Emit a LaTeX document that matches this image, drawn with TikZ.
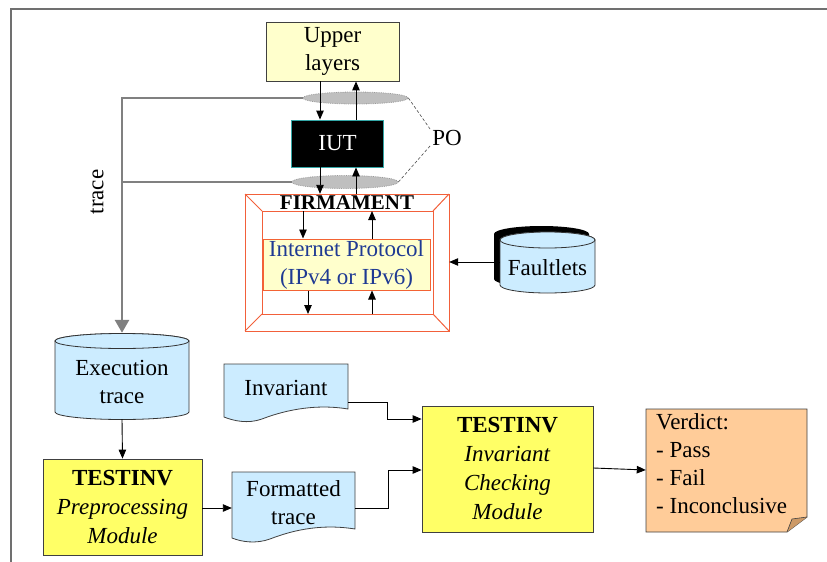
\documentclass[tikz,border=0pt]{standalone}
\usepackage{fontspec}
\setmainfont{Liberation Serif}
\usetikzlibrary{arrows.meta,shapes.geometric}
\definecolor{ylight}{HTML}{FFFFCC}
\definecolor{yboxfill}{HTML}{FFFF66}
\definecolor{cylfill}{HTML}{CCECFF}
\definecolor{peach}{HTML}{FFCC99}
\definecolor{foldcol}{HTML}{CC9966}
\definecolor{firmcol}{HTML}{F2603A}
\definecolor{ipblue}{HTML}{1F3A93}
\definecolor{iutborder}{HTML}{33A6A6}
\definecolor{linegray}{HTML}{808080}
\definecolor{ellfill}{HTML}{BFBFBF}
\definecolor{ellline}{HTML}{9A9A9A}
\definecolor{framegray}{HTML}{707070}
\begin{document}
\begin{tikzpicture}[x=1pt,y=-1pt,
  every node/.style={font=\fontsize{23}{28}\selectfont, inner sep=0pt},
  arr/.style={draw=black, line width=0.9pt, -{Triangle[length=9pt,width=7.5pt]}},
  garr/.style={draw=linegray, line width=2.8pt},
  plainbox/.style={draw=black!75, line width=0.8pt, align=center},
  ellbox/.style={ellipse, draw=ellline, densely dotted, line width=0.8pt, fill=ellfill},
  cylline/.style={draw=black!80, line width=0.8pt, fill=cylfill},
  ghost/.style={draw=none, fill=none}
]
\useasboundingbox (0,0) rectangle (827,562);

% outer frame lines
\draw[framegray, line width=1.6pt] (11,562) -- (11,9) -- (827,9);

% Upper layers and IUT
\node[plainbox, fill=ylight, minimum width=133pt, minimum height=59pt] (upper) at (332.5,51.5) {Upper\\layers};
\node[draw=iutborder, line width=0.9pt, fill=black, text=white, minimum width=92pt, minimum height=47pt] (iut) at (337.5,143.5) {IUT};

% points of observation
\node[ellbox, minimum width=105pt, minimum height=12pt] (po1) at (355.5,98) {};
\node[ellbox, minimum width=106pt, minimum height=13pt] (po2) at (345,182) {};
\node (po) at (447,138) {PO};
\draw[black!70, densely dashed, line width=0.6pt] (po1.east) -- ([xshift=-2pt,yshift=1pt]po.north west);
\draw[black!70, densely dashed, line width=0.6pt] (po2.east) -- ([xshift=-2pt]po.south west);

% FIRMAMENT frame
\node[ghost, minimum width=204pt, minimum height=137pt] (firm) at (347,262.5) {};
\draw[firmcol, line width=1pt] (245,194) rectangle (449,331);
\draw[firmcol, line width=1pt] (262,211) rectangle (433,314);
\draw[firmcol, line width=1pt] (245,194) -- (262,211) (449,194) -- (433,211) (245,331) -- (262,314) (449,331) -- (433,314);
\node[font=\fontsize{21}{24}\selectfont\bfseries] (firmlbl) at (347,203) {FIRMAMENT};
\node[draw=firmcol!90!orange, line width=1pt, fill=ylight, text=ipblue, align=center, minimum width=167pt, minimum height=51pt] (ip) at (346.5,264.5) {Internet Protocol\\(IPv4 or IPv6)};
\coordinate (fintop) at (262,211);
\coordinate (finbot) at (262,314);

% Faultlets cylinder with shadow
\fill[black] (494,234) -- (494,279) arc[start angle=180,end angle=0,x radius=47.5,y radius=8] -- (589,234) arc[start angle=0,end angle=-180,x radius=47.5,y radius=8] -- cycle;
\draw[cylline] (500,240) -- (500,285) arc[start angle=180,end angle=0,x radius=47.5,y radius=8] -- (595,240) arc[start angle=0,end angle=-180,x radius=47.5,y radius=8] -- cycle;
\draw[cylline] (547.5,240) ellipse[x radius=47.5,y radius=8];
\node[ghost, minimum width=95pt, minimum height=50pt] (fault) at (547.5,262) {};
\node at (547.5,268) {Faultlets};

% Execution trace cylinder
\draw[cylline] (55,341) -- (55,412) arc[start angle=180,end angle=0,x radius=67,y radius=7.5] -- (189,341) arc[start angle=0,end angle=-180,x radius=67,y radius=7.5] -- cycle;
\draw[cylline] (122,341) ellipse[x radius=67,y radius=7.5];
\node[ghost, minimum width=134pt, minimum height=86pt] (exec) at (122,376) {};
\node[align=center] at (122,382) {Execution\\trace};

% TESTINV preprocessing
\node[plainbox, fill=yboxfill, minimum width=159pt, minimum height=96pt, font=\fontsize{23}{29}\selectfont] (prep) at (122.5,507) {\textbf{TESTINV}\\\textit{Preprocessing}\\\textit{Module}};

% Invariant document
\draw[plainbox, fill=cylfill] (224,364) -- (348,364) -- (348,409) .. controls (312,403) and (280,412) .. (262,419) .. controls (248,424) and (234,421) .. (224,417) -- cycle;
\node[ghost, minimum width=124pt, minimum height=45pt] (inv) at (286,386.5) {};
\node at (286,388) {Invariant};

% Formatted trace document
\draw[plainbox, fill=cylfill] (232,472) -- (355,472) -- (355,529) .. controls (318,523) and (288,532) .. (270,539) .. controls (256,544) and (242,542) .. (232,538) -- cycle;
\node[ghost, minimum width=123pt, minimum height=57pt] (fmt) at (293.5,500.5) {};
\node[align=center] at (293.5,503) {Formatted\\trace};

% TESTINV invariant checking
\node[plainbox, fill=yboxfill, minimum width=171pt, minimum height=126pt, font=\fontsize{23}{29}\selectfont] (chk) at (507.5,469) {\textbf{TESTINV}\\\textit{Invariant}\\\textit{Checking}\\\textit{Module}};

% Verdict note
\draw[draw=black!75, line width=0.8pt, fill=peach] (646,409) -- (807,409) -- (807,517) -- (787,532) -- (646,532) -- cycle;
\fill[foldcol] (787,532) -- (792,519) -- (807,517) -- cycle;
\draw[black!75, line width=0.6pt] (787,532) -- (792,519) -- (807,517);
\node[ghost, minimum width=161pt, minimum height=123pt] (verd) at (726.5,470.5) {};
\node[align=left, anchor=north west, font=\fontsize{23}{28}\selectfont] at (656,413) {Verdict:\\- Pass\\- Fail\\- Inconclusive};

% trace label
\node[rotate=90] (tracelbl) at (97,192) {trace};

% gray trace lines
\coordinate (tc1) at (122,98);
\draw[garr, -{Triangle[length=13pt,width=14pt]}] (po1.west) -- (tc1) -- (exec.north);
\draw[garr] (po2.west) -- (po2.west -| tc1);

% arrows around IUT
\coordinate (xa) at (320,0);
\coordinate (xb) at (356,0);
\draw[arr] (upper.south -| xa) -- (iut.north -| xa);
\draw[arr] (iut.north -| xb) -- (upper.south -| xb);
\draw[arr] (iut.south -| xa) -- (firm.north -| xa);
\draw[arr] (firm.north -| xb) -- (iut.south -| xb);

% arrows inside FIRMAMENT
\coordinate (xc) at (303,0);
\coordinate (xd) at (372,0);
\coordinate (xe) at (308,0);
\draw[arr] (fintop -| xc) -- (ip.north -| xc);
\draw[arr] (ip.north -| xd) -- (fintop -| xd);
\draw[arr] (ip.south -| xe) -- (finbot -| xe);
\draw[arr] (finbot -| xd) -- (ip.south -| xd);

% Faultlets to FIRMAMENT
\draw[arr] (fault.west) -- (firm.east |- fault.west);

% lower flow
\draw[arr] (exec.south) -- (prep.north);
\draw[arr] (prep.east |- 0,508) -- (fmt.west |- 0,508);
\draw[arr] (inv.east |- 0,402) -- (387,402) -- (387,419) -- (chk.west |- 0,419);
\draw[arr] (fmt.east |- 0,508) -- (388,508) -- (388,470) -- (chk.west |- 0,470);
\draw[arr] (chk.east |- 0,468) -- (verd.west |- 0,470);
\end{tikzpicture}
\end{document}
